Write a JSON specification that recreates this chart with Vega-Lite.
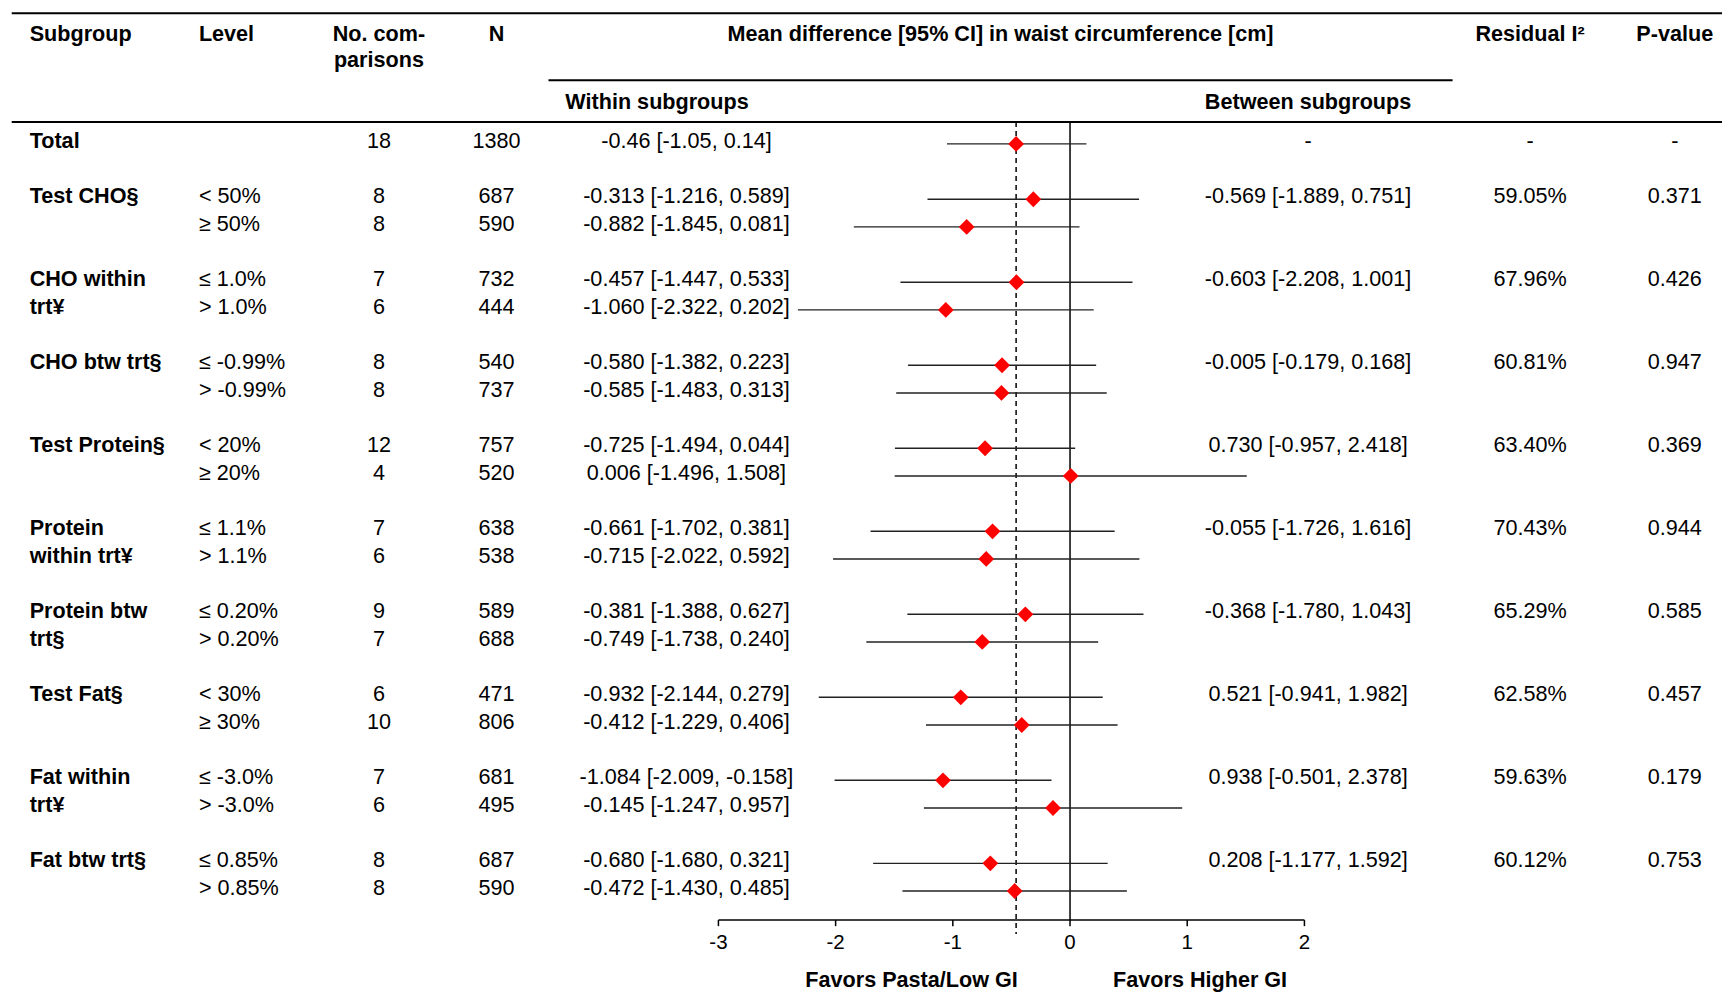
{
  "$schema": "https://vega.github.io/schema/vega-lite/v6.json",
  "width": 1722,
  "height": 993,
  "autosize": {"type": "none"},
  "padding": 0,
  "background": "white",
  "config": {
    "view": {"stroke": null},
    "text": {"font": "Liberation Sans", "fontSize": 21.6, "color": "#000000", "baseline": "middle"}
  },
  "datasets": {
    "rows": [
      {"row": 0, "sub": "Total", "lev": "", "nc": "18", "n": "1380", "wt": "-0.46 [-1.05, 0.14]", "m": -0.46, "lo": -1.05, "hi": 0.14, "bt": "-", "i2": "-", "p": "-"},
      {"row": 2, "sub": "Test CHO§", "lev": "< 50%", "nc": "8", "n": "687", "wt": "-0.313 [-1.216, 0.589]", "m": -0.313, "lo": -1.216, "hi": 0.589, "bt": "-0.569 [-1.889, 0.751]", "i2": "59.05%", "p": "0.371"},
      {"row": 3, "sub": "", "lev": "≥ 50%", "nc": "8", "n": "590", "wt": "-0.882 [-1.845, 0.081]", "m": -0.882, "lo": -1.845, "hi": 0.081, "bt": "", "i2": "", "p": ""},
      {"row": 5, "sub": "CHO within", "lev": "≤ 1.0%", "nc": "7", "n": "732", "wt": "-0.457 [-1.447, 0.533]", "m": -0.457, "lo": -1.447, "hi": 0.533, "bt": "-0.603 [-2.208, 1.001]", "i2": "67.96%", "p": "0.426"},
      {"row": 6, "sub": "trt¥", "lev": "> 1.0%", "nc": "6", "n": "444", "wt": "-1.060 [-2.322, 0.202]", "m": -1.06, "lo": -2.322, "hi": 0.202, "bt": "", "i2": "", "p": ""},
      {"row": 8, "sub": "CHO btw trt§", "lev": "≤ -0.99%", "nc": "8", "n": "540", "wt": "-0.580 [-1.382, 0.223]", "m": -0.58, "lo": -1.382, "hi": 0.223, "bt": "-0.005 [-0.179, 0.168]", "i2": "60.81%", "p": "0.947"},
      {"row": 9, "sub": "", "lev": "> -0.99%", "nc": "8", "n": "737", "wt": "-0.585 [-1.483, 0.313]", "m": -0.585, "lo": -1.483, "hi": 0.313, "bt": "", "i2": "", "p": ""},
      {"row": 11, "sub": "Test Protein§", "lev": "< 20%", "nc": "12", "n": "757", "wt": "-0.725 [-1.494, 0.044]", "m": -0.725, "lo": -1.494, "hi": 0.044, "bt": "0.730 [-0.957, 2.418]", "i2": "63.40%", "p": "0.369"},
      {"row": 12, "sub": "", "lev": "≥ 20%", "nc": "4", "n": "520", "wt": "0.006 [-1.496, 1.508]", "m": 0.006, "lo": -1.496, "hi": 1.508, "bt": "", "i2": "", "p": ""},
      {"row": 14, "sub": "Protein", "lev": "≤ 1.1%", "nc": "7", "n": "638", "wt": "-0.661 [-1.702, 0.381]", "m": -0.661, "lo": -1.702, "hi": 0.381, "bt": "-0.055 [-1.726, 1.616]", "i2": "70.43%", "p": "0.944"},
      {"row": 15, "sub": "within trt¥", "lev": "> 1.1%", "nc": "6", "n": "538", "wt": "-0.715 [-2.022, 0.592]", "m": -0.715, "lo": -2.022, "hi": 0.592, "bt": "", "i2": "", "p": ""},
      {"row": 17, "sub": "Protein btw", "lev": "≤ 0.20%", "nc": "9", "n": "589", "wt": "-0.381 [-1.388, 0.627]", "m": -0.381, "lo": -1.388, "hi": 0.627, "bt": "-0.368 [-1.780, 1.043]", "i2": "65.29%", "p": "0.585"},
      {"row": 18, "sub": "trt§", "lev": "> 0.20%", "nc": "7", "n": "688", "wt": "-0.749 [-1.738, 0.240]", "m": -0.749, "lo": -1.738, "hi": 0.24, "bt": "", "i2": "", "p": ""},
      {"row": 20, "sub": "Test Fat§", "lev": "< 30%", "nc": "6", "n": "471", "wt": "-0.932 [-2.144, 0.279]", "m": -0.932, "lo": -2.144, "hi": 0.279, "bt": "0.521 [-0.941, 1.982]", "i2": "62.58%", "p": "0.457"},
      {"row": 21, "sub": "", "lev": "≥ 30%", "nc": "10", "n": "806", "wt": "-0.412 [-1.229, 0.406]", "m": -0.412, "lo": -1.229, "hi": 0.406, "bt": "", "i2": "", "p": ""},
      {"row": 23, "sub": "Fat within", "lev": "≤ -3.0%", "nc": "7", "n": "681", "wt": "-1.084 [-2.009, -0.158]", "m": -1.084, "lo": -2.009, "hi": -0.158, "bt": "0.938 [-0.501, 2.378]", "i2": "59.63%", "p": "0.179"},
      {"row": 24, "sub": "trt¥", "lev": "> -3.0%", "nc": "6", "n": "495", "wt": "-0.145 [-1.247, 0.957]", "m": -0.145, "lo": -1.247, "hi": 0.957, "bt": "", "i2": "", "p": ""},
      {"row": 26, "sub": "Fat btw trt§", "lev": "≤ 0.85%", "nc": "8", "n": "687", "wt": "-0.680 [-1.680, 0.321]", "m": -0.68, "lo": -1.68, "hi": 0.321, "bt": "0.208 [-1.177, 1.592]", "i2": "60.12%", "p": "0.753"},
      {"row": 27, "sub": "", "lev": "> 0.85%", "nc": "8", "n": "590", "wt": "-0.472 [-1.430, 0.485]", "m": -0.472, "lo": -1.43, "hi": 0.485, "bt": "", "i2": "", "p": ""}
    ],
    "ticks": [{"v": -3}, {"v": -2}, {"v": -1}, {"v": 0}, {"v": 1}, {"v": 2}],
    "one": [{}]
  },
  "layer": [
    {
      "data": {"name": "one"},
      "mark": {"type": "rule", "color": "#000", "strokeWidth": 2},
      "encoding": {
        "x": {"datum": -9.03, "type": "quantitative", "scale": {"domain": [-9.13, 5.563], "nice": false, "zero": false}, "axis": null},
        "x2": {"datum": 5.563},
        "y": {"datum": -4.724, "type": "quantitative", "scale": {"domain": [-5.2, 30.686], "nice": false, "zero": false, "reverse": true}, "axis": null}
      }
    },
    {
      "data": {"name": "one"},
      "mark": {"type": "rule", "color": "#000", "strokeWidth": 2},
      "encoding": {
        "x": {"datum": -4.45, "type": "quantitative", "scale": {"domain": [-9.13, 5.563], "nice": false, "zero": false}, "axis": null},
        "x2": {"datum": 3.264},
        "y": {"datum": -2.302, "type": "quantitative", "scale": {"domain": [-5.2, 30.686], "nice": false, "zero": false, "reverse": true}, "axis": null}
      }
    },
    {
      "data": {"name": "one"},
      "mark": {"type": "rule", "color": "#000", "strokeWidth": 2},
      "encoding": {
        "x": {"datum": -9.03, "type": "quantitative", "scale": {"domain": [-9.13, 5.563], "nice": false, "zero": false}, "axis": null},
        "x2": {"datum": 5.563},
        "y": {"datum": -0.795, "type": "quantitative", "scale": {"domain": [-5.2, 30.686], "nice": false, "zero": false, "reverse": true}, "axis": null}
      }
    },
    {
      "data": {"name": "one"},
      "mark": {"type": "rule", "color": "#000", "strokeWidth": 1.5},
      "encoding": {
        "x": {"datum": 0, "type": "quantitative", "scale": {"domain": [-9.13, 5.563], "nice": false, "zero": false}, "axis": null},
        "y": {"datum": -0.795, "type": "quantitative", "scale": {"domain": [-5.2, 30.686], "nice": false, "zero": false, "reverse": true}, "axis": null},
        "y2": {"datum": 28.05}
      }
    },
    {
      "data": {"name": "one"},
      "mark": {"type": "rule", "color": "#000", "strokeWidth": 1.5, "strokeDash": [5, 4]},
      "encoding": {
        "x": {"datum": -0.46, "type": "quantitative", "scale": {"domain": [-9.13, 5.563], "nice": false, "zero": false}, "axis": null},
        "y": {"datum": -0.795, "type": "quantitative", "scale": {"domain": [-5.2, 30.686], "nice": false, "zero": false, "reverse": true}, "axis": null},
        "y2": {"datum": 28.55}
      }
    },
    {
      "data": {"name": "rows"},
      "mark": {"type": "rule", "color": "#222", "strokeWidth": 1.4},
      "encoding": {
        "x": {"field": "lo", "type": "quantitative", "scale": {"domain": [-9.13, 5.563], "nice": false, "zero": false}, "axis": null},
        "x2": {"field": "hi"},
        "y": {"field": "row", "type": "quantitative", "scale": {"domain": [-5.2, 30.686], "nice": false, "zero": false, "reverse": true}, "axis": null}
      }
    },
    {
      "data": {"name": "rows"},
      "mark": {"type": "point", "shape": "diamond", "filled": true, "color": "#ff0000", "opacity": 1, "size": 250},
      "encoding": {
        "x": {"field": "m", "type": "quantitative", "scale": {"domain": [-9.13, 5.563], "nice": false, "zero": false}, "axis": null},
        "y": {"field": "row", "type": "quantitative", "scale": {"domain": [-5.2, 30.686], "nice": false, "zero": false, "reverse": true}, "axis": null}
      }
    },
    {
      "data": {"name": "rows"},
      "mark": {"type": "text", "align": "left", "fontWeight": "bold", "dy": -2},
      "encoding": {
        "x": {"datum": -8.877, "type": "quantitative", "scale": {"domain": [-9.13, 5.563], "nice": false, "zero": false}, "axis": null},
        "y": {"field": "row", "type": "quantitative", "scale": {"domain": [-5.2, 30.686], "nice": false, "zero": false, "reverse": true}, "axis": null},
        "text": {"field": "sub", "type": "nominal"}
      }
    },
    {
      "data": {"name": "rows"},
      "mark": {"type": "text", "align": "left", "dy": -2},
      "encoding": {
        "x": {"datum": -7.433, "type": "quantitative", "scale": {"domain": [-9.13, 5.563], "nice": false, "zero": false}, "axis": null},
        "y": {"field": "row", "type": "quantitative", "scale": {"domain": [-5.2, 30.686], "nice": false, "zero": false, "reverse": true}, "axis": null},
        "text": {"field": "lev", "type": "nominal"}
      }
    },
    {
      "data": {"name": "rows"},
      "mark": {"type": "text", "align": "center", "dy": -2},
      "encoding": {
        "x": {"datum": -5.897, "type": "quantitative", "scale": {"domain": [-9.13, 5.563], "nice": false, "zero": false}, "axis": null},
        "y": {"field": "row", "type": "quantitative", "scale": {"domain": [-5.2, 30.686], "nice": false, "zero": false, "reverse": true}, "axis": null},
        "text": {"field": "nc", "type": "nominal"}
      }
    },
    {
      "data": {"name": "rows"},
      "mark": {"type": "text", "align": "center", "dy": -2},
      "encoding": {
        "x": {"datum": -4.894, "type": "quantitative", "scale": {"domain": [-9.13, 5.563], "nice": false, "zero": false}, "axis": null},
        "y": {"field": "row", "type": "quantitative", "scale": {"domain": [-5.2, 30.686], "nice": false, "zero": false, "reverse": true}, "axis": null},
        "text": {"field": "n", "type": "nominal"}
      }
    },
    {
      "data": {"name": "rows"},
      "mark": {"type": "text", "align": "center", "dy": -2},
      "encoding": {
        "x": {"datum": -3.273, "type": "quantitative", "scale": {"domain": [-9.13, 5.563], "nice": false, "zero": false}, "axis": null},
        "y": {"field": "row", "type": "quantitative", "scale": {"domain": [-5.2, 30.686], "nice": false, "zero": false, "reverse": true}, "axis": null},
        "text": {"field": "wt", "type": "nominal"}
      }
    },
    {
      "data": {"name": "rows"},
      "mark": {"type": "text", "align": "center", "dy": -2},
      "encoding": {
        "x": {"datum": 2.031, "type": "quantitative", "scale": {"domain": [-9.13, 5.563], "nice": false, "zero": false}, "axis": null},
        "y": {"field": "row", "type": "quantitative", "scale": {"domain": [-5.2, 30.686], "nice": false, "zero": false, "reverse": true}, "axis": null},
        "text": {"field": "bt", "type": "nominal"}
      }
    },
    {
      "data": {"name": "rows"},
      "mark": {"type": "text", "align": "center", "dy": -2},
      "encoding": {
        "x": {"datum": 3.925, "type": "quantitative", "scale": {"domain": [-9.13, 5.563], "nice": false, "zero": false}, "axis": null},
        "y": {"field": "row", "type": "quantitative", "scale": {"domain": [-5.2, 30.686], "nice": false, "zero": false, "reverse": true}, "axis": null},
        "text": {"field": "i2", "type": "nominal"}
      }
    },
    {
      "data": {"name": "rows"},
      "mark": {"type": "text", "align": "center", "dy": -2},
      "encoding": {
        "x": {"datum": 5.16, "type": "quantitative", "scale": {"domain": [-9.13, 5.563], "nice": false, "zero": false}, "axis": null},
        "y": {"field": "row", "type": "quantitative", "scale": {"domain": [-5.2, 30.686], "nice": false, "zero": false, "reverse": true}, "axis": null},
        "text": {"field": "p", "type": "nominal"}
      }
    },
    {
      "data": {"name": "one"},
      "mark": {"type": "text", "align": "left", "fontWeight": "bold"},
      "encoding": {
        "x": {"datum": -8.877, "type": "quantitative", "scale": {"domain": [-9.13, 5.563], "nice": false, "zero": false}, "axis": null},
        "y": {"datum": -3.93, "type": "quantitative", "scale": {"domain": [-5.2, 30.686], "nice": false, "zero": false, "reverse": true}, "axis": null},
        "text": {"value": "Subgroup"}
      }
    },
    {
      "data": {"name": "one"},
      "mark": {"type": "text", "align": "left", "fontWeight": "bold"},
      "encoding": {
        "x": {"datum": -7.433, "type": "quantitative", "scale": {"domain": [-9.13, 5.563], "nice": false, "zero": false}, "axis": null},
        "y": {"datum": -3.93, "type": "quantitative", "scale": {"domain": [-5.2, 30.686], "nice": false, "zero": false, "reverse": true}, "axis": null},
        "text": {"value": "Level"}
      }
    },
    {
      "data": {"name": "one"},
      "mark": {"type": "text", "align": "center", "fontWeight": "bold"},
      "encoding": {
        "x": {"datum": -5.897, "type": "quantitative", "scale": {"domain": [-9.13, 5.563], "nice": false, "zero": false}, "axis": null},
        "y": {"datum": -3.93, "type": "quantitative", "scale": {"domain": [-5.2, 30.686], "nice": false, "zero": false, "reverse": true}, "axis": null},
        "text": {"value": "No. com-"}
      }
    },
    {
      "data": {"name": "one"},
      "mark": {"type": "text", "align": "center", "fontWeight": "bold"},
      "encoding": {
        "x": {"datum": -5.897, "type": "quantitative", "scale": {"domain": [-9.13, 5.563], "nice": false, "zero": false}, "axis": null},
        "y": {"datum": -2.98, "type": "quantitative", "scale": {"domain": [-5.2, 30.686], "nice": false, "zero": false, "reverse": true}, "axis": null},
        "text": {"value": "parisons"}
      }
    },
    {
      "data": {"name": "one"},
      "mark": {"type": "text", "align": "center", "fontWeight": "bold"},
      "encoding": {
        "x": {"datum": -4.894, "type": "quantitative", "scale": {"domain": [-9.13, 5.563], "nice": false, "zero": false}, "axis": null},
        "y": {"datum": -3.93, "type": "quantitative", "scale": {"domain": [-5.2, 30.686], "nice": false, "zero": false, "reverse": true}, "axis": null},
        "text": {"value": "N"}
      }
    },
    {
      "data": {"name": "one"},
      "mark": {"type": "text", "align": "center", "fontWeight": "bold"},
      "encoding": {
        "x": {"datum": -0.593, "type": "quantitative", "scale": {"domain": [-9.13, 5.563], "nice": false, "zero": false}, "axis": null},
        "y": {"datum": -3.93, "type": "quantitative", "scale": {"domain": [-5.2, 30.686], "nice": false, "zero": false, "reverse": true}, "axis": null},
        "text": {"value": "Mean difference [95% CI] in waist circumference [cm]"}
      }
    },
    {
      "data": {"name": "one"},
      "mark": {"type": "text", "align": "center", "fontWeight": "bold"},
      "encoding": {
        "x": {"datum": 3.925, "type": "quantitative", "scale": {"domain": [-9.13, 5.563], "nice": false, "zero": false}, "axis": null},
        "y": {"datum": -3.93, "type": "quantitative", "scale": {"domain": [-5.2, 30.686], "nice": false, "zero": false, "reverse": true}, "axis": null},
        "text": {"value": "Residual I²"}
      }
    },
    {
      "data": {"name": "one"},
      "mark": {"type": "text", "align": "center", "fontWeight": "bold"},
      "encoding": {
        "x": {"datum": 5.16, "type": "quantitative", "scale": {"domain": [-9.13, 5.563], "nice": false, "zero": false}, "axis": null},
        "y": {"datum": -3.93, "type": "quantitative", "scale": {"domain": [-5.2, 30.686], "nice": false, "zero": false, "reverse": true}, "axis": null},
        "text": {"value": "P-value"}
      }
    },
    {
      "data": {"name": "one"},
      "mark": {"type": "text", "align": "center", "fontWeight": "bold"},
      "encoding": {
        "x": {"datum": -3.524, "type": "quantitative", "scale": {"domain": [-9.13, 5.563], "nice": false, "zero": false}, "axis": null},
        "y": {"datum": -1.47, "type": "quantitative", "scale": {"domain": [-5.2, 30.686], "nice": false, "zero": false, "reverse": true}, "axis": null},
        "text": {"value": "Within subgroups"}
      }
    },
    {
      "data": {"name": "one"},
      "mark": {"type": "text", "align": "center", "fontWeight": "bold"},
      "encoding": {
        "x": {"datum": 2.031, "type": "quantitative", "scale": {"domain": [-9.13, 5.563], "nice": false, "zero": false}, "axis": null},
        "y": {"datum": -1.47, "type": "quantitative", "scale": {"domain": [-5.2, 30.686], "nice": false, "zero": false, "reverse": true}, "axis": null},
        "text": {"value": "Between subgroups"}
      }
    },
    {
      "data": {"name": "one"},
      "mark": {"type": "rule", "color": "#000", "strokeWidth": 1.5},
      "encoding": {
        "x": {"datum": -3, "type": "quantitative", "scale": {"domain": [-9.13, 5.563], "nice": false, "zero": false}, "axis": null},
        "x2": {"datum": 2},
        "y": {"datum": 28.05, "type": "quantitative", "scale": {"domain": [-5.2, 30.686], "nice": false, "zero": false, "reverse": true}, "axis": null}
      }
    },
    {
      "data": {"name": "ticks"},
      "mark": {"type": "rule", "color": "#000", "strokeWidth": 1.5},
      "encoding": {
        "x": {"field": "v", "type": "quantitative", "scale": {"domain": [-9.13, 5.563], "nice": false, "zero": false}, "axis": null},
        "y": {"datum": 28.05, "type": "quantitative", "scale": {"domain": [-5.2, 30.686], "nice": false, "zero": false, "reverse": true}, "axis": null},
        "y2": {"datum": 28.27}
      }
    },
    {
      "data": {"name": "ticks"},
      "mark": {"type": "text", "align": "center", "fontSize": 20.5},
      "encoding": {
        "x": {"field": "v", "type": "quantitative", "scale": {"domain": [-9.13, 5.563], "nice": false, "zero": false}, "axis": null},
        "y": {"datum": 28.87, "type": "quantitative", "scale": {"domain": [-5.2, 30.686], "nice": false, "zero": false, "reverse": true}, "axis": null},
        "text": {"field": "v", "type": "nominal"}
      }
    },
    {
      "data": {"name": "one"},
      "mark": {"type": "text", "align": "center", "fontWeight": "bold"},
      "encoding": {
        "x": {"datum": -1.352, "type": "quantitative", "scale": {"domain": [-9.13, 5.563], "nice": false, "zero": false}, "axis": null},
        "y": {"datum": 30.26, "type": "quantitative", "scale": {"domain": [-5.2, 30.686], "nice": false, "zero": false, "reverse": true}, "axis": null},
        "text": {"value": "Favors Pasta/Low GI"}
      }
    },
    {
      "data": {"name": "one"},
      "mark": {"type": "text", "align": "center", "fontWeight": "bold"},
      "encoding": {
        "x": {"datum": 1.11, "type": "quantitative", "scale": {"domain": [-9.13, 5.563], "nice": false, "zero": false}, "axis": null},
        "y": {"datum": 30.26, "type": "quantitative", "scale": {"domain": [-5.2, 30.686], "nice": false, "zero": false, "reverse": true}, "axis": null},
        "text": {"value": "Favors Higher GI"}
      }
    }
  ]
}
